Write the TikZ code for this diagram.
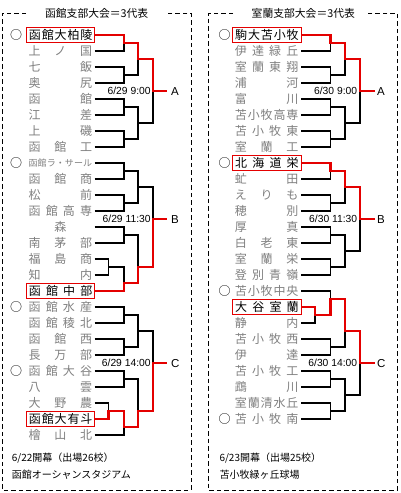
\documentclass[tikz,border=0pt]{standalone}
\usepackage{fontspec}
\newfontfamily\jp{Noto Sans CJK JP}
\newfontfamily\ar{Liberation Sans}
\definecolor{myred}{RGB}{228,0,0}
\definecolor{nm}{RGB}{128,128,128}
\newcommand\tm[1]{\makebox[63.5pt][s]{#1}}
\newcommand\hx{\hfill}
\begin{document}
\begin{tikzpicture}[x=1pt,y=-1pt,
 team/.style={anchor=west, inner xsep=2.4pt, inner ysep=0pt, minimum height=15pt, text height=10.5pt, text depth=1.5pt, font=\jp\fontsize{12}{12}\selectfont, text=nm},
 winbox/.style={team, draw=myred, line width=1pt, text=black},
 circ/.style={inner sep=0pt, font=\jp\fontsize{12}{12}\selectfont},
 ln/.style={line width=1.1pt, draw=black},
 rl/.style={line width=2.6pt, draw=myred},
 dt/.style={anchor=east, inner sep=0pt, font=\ar\fontsize{10.3}{10.3}\selectfont, text height=7.4pt, text depth=0pt},
 lbl/.style={anchor=west, inner sep=0pt, font=\ar\fontsize{11.5}{11.5}\selectfont, text height=8.2pt, text depth=0pt},
 ttl/.style={inner sep=0pt, font=\jp\fontsize{10.8}{10.8}\selectfont, text height=8.9pt, text depth=0.9pt},
 foot/.style={anchor=west, inner sep=0pt, font=\jp\fontsize{10}{10}\selectfont, text height=8.3pt, text depth=0.8pt},
 panel/.style={dash pattern=on 4.5pt off 3pt, line width=1pt},
]
\useasboundingbox (0,0) rectangle (400,493);
\fill[white] (0,0) rectangle (400,493);

% ---------- frames and titles ----------
\draw[panel] (26,13.3) -- (2,13.3) -- (2,490) -- (191,490) -- (191,13.3) -- (165,13.3);
\draw[panel] (233,13.3) -- (208.3,13.3) -- (208.3,490) -- (397.5,490) -- (397.5,13.3) -- (368,13.3);
\node[ttl] (tL) at (96.7,13.3) {函館支部大会＝3代表};
\node[ttl] (tR) at (303.3,13.3) {室蘭支部大会＝3代表};

% ---------- left teams ----------
\node[winbox] (L1) at (26,35) {\tm{函\hx 館\hx 大\hx 柏\hx 陵}};
\node[team] (L2) at (26,51) {\tm{上\hx ノ\hx 国}};
\node[team] (L3) at (26,67) {\tm{七\hx 飯}};
\node[team] (L4) at (26,83) {\tm{奥\hx 尻}};
\node[team] (L5) at (26,99) {\tm{函\hx 館}};
\node[team] (L6) at (26,115) {\tm{江\hx 差}};
\node[team] (L7) at (26,131) {\tm{上\hx 磯}};
\node[team] (L8) at (26,147) {\tm{函\hx 館\hx 工}};
\node[team, text height=9.4pt, text depth=2.6pt] (L9) at (26,163) {\fontsize{9}{9}\selectfont\tm{函\hx 館\hx ラ\hx ・\hx サ\hx ー\hx ル}};
\node[team] (L10) at (26,179) {\tm{函\hx 館\hx 商}};
\node[team] (L11) at (26,195) {\tm{松\hx 前}};
\node[team] (L12) at (26,211) {\tm{函\hx 館\hx 高\hx 専}};
\node[team] (L13) at (26,227) {\makebox[63.5pt][c]{森}};
\node[team] (L14) at (26,243) {\tm{南\hx 茅\hx 部}};
\node[team] (L15) at (26,259) {\tm{福\hx 島\hx 商}};
\node[team] (L16) at (26,275) {\tm{知\hx 内}};
\node[winbox] (L17) at (26,291) {\tm{函\hx 館\hx 中\hx 部}};
\node[team] (L18) at (26,307) {\tm{函\hx 館\hx 水\hx 産}};
\node[team] (L19) at (26,323) {\tm{函\hx 館\hx 稜\hx 北}};
\node[team] (L20) at (26,339) {\tm{函\hx 館\hx 西}};
\node[team] (L21) at (26,355) {\tm{長\hx 万\hx 部}};
\node[team] (L22) at (26,371) {\tm{函\hx 館\hx 大\hx 谷}};
\node[team] (L23) at (26,387) {\tm{八\hx 雲}};
\node[team] (L24) at (26,403) {\tm{大\hx 野\hx 農}};
\node[winbox] (L25) at (26,419) {\tm{函\hx 館\hx 大\hx 有\hx 斗}};
\node[team] (L26) at (26,435) {\tm{檜\hx 山\hx 北}};

\node[circ] (oL1) at (16,35) {○};
\node[circ] (oL9) at (16,163) {○};
\node[circ] (oL18) at (16,307) {○};
\node[circ] (oL22) at (16,371) {○};

% ---------- right teams ----------
\node[winbox] (R1) at (232.3,35) {\tm{駒\hx 大\hx 苫\hx 小\hx 牧}};
\node[team] (R2) at (232.3,51) {\tm{伊\hx 達\hx 緑\hx 丘}};
\node[team] (R3) at (232.3,67) {\tm{室\hx 蘭\hx 東\hx 翔}};
\node[team] (R4) at (232.3,83) {\tm{浦\hx 河}};
\node[team] (R5) at (232.3,99) {\tm{富\hx 川}};
\node[team] (R6) at (232.3,115) {\tm{苫\hx 小\hx 牧\hx 高\hx 専}};
\node[team] (R7) at (232.3,131) {\tm{苫\hx 小\hx 牧\hx 東}};
\node[team] (R8) at (232.3,147) {\tm{室\hx 蘭\hx 工}};
\node[winbox] (R9) at (232.3,163) {\tm{北\hx 海\hx 道\hx 栄}};
\node[team] (R10) at (232.3,179) {\tm{虻\hx 田}};
\node[team] (R11) at (232.3,195) {\tm{え\hx り\hx も}};
\node[team] (R12) at (232.3,211) {\tm{穂\hx 別}};
\node[team] (R13) at (232.3,227) {\tm{厚\hx 真}};
\node[team] (R14) at (232.3,243) {\tm{白\hx 老\hx 東}};
\node[team] (R15) at (232.3,259) {\tm{室\hx 蘭\hx 栄}};
\node[team] (R16) at (232.3,275) {\tm{登\hx 別\hx 青\hx 嶺}};
\node[team] (R17) at (232.3,291) {\tm{苫\hx 小\hx 牧\hx 中\hx 央}};
\node[winbox] (R18) at (232.3,307) {\tm{大\hx 谷\hx 室\hx 蘭}};
\node[team] (R19) at (232.3,323) {\tm{静\hx 内}};
\node[team] (R20) at (232.3,339) {\tm{苫\hx 小\hx 牧\hx 西}};
\node[team] (R21) at (232.3,355) {\tm{伊\hx 達}};
\node[team] (R22) at (232.3,371) {\tm{苫\hx 小\hx 牧\hx 工}};
\node[team] (R23) at (232.3,387) {\tm{鵡\hx 川}};
\node[team] (R24) at (232.3,403) {\tm{室\hx 蘭\hx 清\hx 水\hx 丘}};
\node[team] (R25) at (232.3,419) {\tm{苫\hx 小\hx 牧\hx 南}};

\node[circ] (oR1) at (224.5,35) {○};
\node[circ] (oR9) at (224.5,163) {○};
\node[circ] (oR17) at (224.5,291) {○};
\node[circ] (oR25) at (224.5,419) {○};

% ---------- left junctions ----------
\coordinate (a11) at (124,43);  \coordinate (a12) at (124,75);
\coordinate (a13) at (124,107); \coordinate (a14) at (124,139);
\coordinate (a21) at (138,59);  \coordinate (a22) at (138,123);
\coordinate (a3) at (153,91);   \coordinate (aE) at (167,91);

\coordinate (b11) at (124,171); \coordinate (b12) at (124,203);
\coordinate (b21) at (138,187); \coordinate (b13) at (124,235);
\coordinate (b01) at (108.3,267); \coordinate (b14) at (124,283);
\coordinate (b22) at (138,267); \coordinate (b3) at (153,219);
\coordinate (bE) at (167,219);

\coordinate (c11) at (124,315); \coordinate (c12) at (124,347);
\coordinate (c21) at (138,331); \coordinate (c13) at (124,379);
\coordinate (c01) at (108.3,411); \coordinate (c14) at (124,427);
\coordinate (c22) at (138,411); \coordinate (c3) at (153,363);
\coordinate (cE) at (167,363);

% ---------- right junctions ----------
\coordinate (d11) at (330.5,43);  \coordinate (d12) at (330.5,75);
\coordinate (d13) at (330.5,107); \coordinate (d14) at (330.5,139);
\coordinate (d21) at (345,59);    \coordinate (d22) at (345,123);
\coordinate (d3) at (360,91);     \coordinate (dE) at (375,91);

\coordinate (e11) at (330.5,171); \coordinate (e12) at (330.5,203);
\coordinate (e13) at (330.5,235); \coordinate (e14) at (330.5,267);
\coordinate (e21) at (345,187);   \coordinate (e22) at (345,251);
\coordinate (e3) at (360,219);    \coordinate (eE) at (375,219);

\coordinate (f01) at (315,315);   \coordinate (f11) at (330.5,299);
\coordinate (f12) at (330.5,347); \coordinate (f21) at (345,331);
\coordinate (f13) at (330.5,379); \coordinate (f14) at (330.5,411);
\coordinate (f22) at (345,395);   \coordinate (f3) at (360,363);
\coordinate (fE) at (375,363);

% ---------- left black lines ----------
\draw[ln] (L1.east) -| (a11); \draw[ln] (L2.east) -| (a11);
\draw[ln] (L3.east) -| (a12); \draw[ln] (L4.east) -| (a12);
\draw[ln] (L5.east) -| (a13); \draw[ln] (L6.east) -| (a13);
\draw[ln] (L7.east) -| (a14); \draw[ln] (L8.east) -| (a14);
\draw[ln] (a11) -| (a21); \draw[ln] (a12) -| (a21);
\draw[ln] (a13) -| (a22); \draw[ln] (a14) -| (a22);
\draw[ln] (a21) -| (a3);  \draw[ln] (a22) -| (a3);
\draw[ln] (a3) -- (aE);

\draw[ln] (L9.east) -| (b11);  \draw[ln] (L10.east) -| (b11);
\draw[ln] (L11.east) -| (b12); \draw[ln] (L12.east) -| (b12);
\draw[ln] (b11) -| (b21); \draw[ln] (b12) -| (b21);
\draw[ln] (L13.east) -| (b13); \draw[ln] (L14.east) -| (b13);
\draw[ln] (L15.east) -| (b01); \draw[ln] (L16.east) -| (b01);
\draw[ln] (b01) -| (b14); \draw[ln] (L17.east) -| (b14);
\draw[ln] (b13) -| (b22); \draw[ln] (b14) -| (b22);
\draw[ln] (b21) -| (b3);  \draw[ln] (b22) -| (b3);
\draw[ln] (b3) -- (bE);

\draw[ln] (L18.east) -| (c11); \draw[ln] (L19.east) -| (c11);
\draw[ln] (L20.east) -| (c12); \draw[ln] (L21.east) -| (c12);
\draw[ln] (c11) -| (c21); \draw[ln] (c12) -| (c21);
\draw[ln] (L22.east) -| (c13); \draw[ln] (L23.east) -| (c13);
\draw[ln] (L24.east) -| (c01); \draw[ln] (L25.east) -| (c01);
\draw[ln] (c01) -| (c14); \draw[ln] (L26.east) -| (c14);
\draw[ln] (c13) -| (c22); \draw[ln] (c14) -| (c22);
\draw[ln] (c21) -| (c3);  \draw[ln] (c22) -| (c3);
\draw[ln] (c3) -- (cE);

% ---------- right black lines ----------
\draw[ln] (R1.east) -| (d11); \draw[ln] (R2.east) -| (d11);
\draw[ln] (R3.east) -| (d12); \draw[ln] (R4.east) -| (d12);
\draw[ln] (R5.east) -| (d13); \draw[ln] (R6.east) -| (d13);
\draw[ln] (R7.east) -| (d14); \draw[ln] (R8.east) -| (d14);
\draw[ln] (d11) -| (d21); \draw[ln] (d12) -| (d21);
\draw[ln] (d13) -| (d22); \draw[ln] (d14) -| (d22);
\draw[ln] (d21) -| (d3);  \draw[ln] (d22) -| (d3);
\draw[ln] (d3) -- (dE);

\draw[ln] (R9.east) -| (e11);  \draw[ln] (R10.east) -| (e11);
\draw[ln] (R11.east) -| (e12); \draw[ln] (R12.east) -| (e12);
\draw[ln] (R13.east) -| (e13); \draw[ln] (R14.east) -| (e13);
\draw[ln] (R15.east) -| (e14); \draw[ln] (R16.east) -| (e14);
\draw[ln] (e11) -| (e21); \draw[ln] (e12) -| (e21);
\draw[ln] (e13) -| (e22); \draw[ln] (e14) -| (e22);
\draw[ln] (e21) -| (e3);  \draw[ln] (e22) -| (e3);
\draw[ln] (e3) -- (eE);

\draw[ln] (R18.east) -| (f01); \draw[ln] (R19.east) -| (f01);
\draw[ln] (R17.east) -| (f11); \draw[ln] (f01) -| (f11);
\draw[ln] (R20.east) -| (f12); \draw[ln] (R21.east) -| (f12);
\draw[ln] (f11) -| (f21); \draw[ln] (f12) -| (f21);
\draw[ln] (R22.east) -| (f13); \draw[ln] (R23.east) -| (f13);
\draw[ln] (R24.east) -| (f14); \draw[ln] (R25.east) -| (f14);
\draw[ln] (f13) -| (f22); \draw[ln] (f14) -| (f22);
\draw[ln] (f21) -| (f3);  \draw[ln] (f22) -| (f3);
\draw[ln] (f3) -- (fE);

% ---------- winners' paths ----------
\draw[rl] (L1.east) -| (a11) -| (a21) -| (a3) -- (aE);
\draw[rl] (L17.east) -| (b14) -| (b22) -| (b3) -- (bE);
\draw[rl] (L25.east) -| (c01) -| (c14) -| (c22) -| (c3) -- (cE);
\draw[rl] (R1.east) -| (d11) -| (d21) -| (d3) -- (dE);
\draw[rl] (R9.east) -| (e11) -| (e21) -| (e3) -- (eE);
\draw[rl] (R18.east) -| (f01) -| (f11) -| (f21) -| (f3) -- (fE);

% ---------- dates and labels ----------
\node[dt] (tA) at (150.8,91) {6/29 9:00};
\node[dt] (tB) at (150.8,219) {6/29 11:30};
\node[dt] (tC) at (150.8,363) {6/29 14:00};
\node[dt] (uA) at (357.3,91) {6/30 9:00};
\node[dt] (uB) at (357.3,219) {6/30 11:30};
\node[dt] (uC) at (357.3,363) {6/30 14:00};

\node[lbl] (lA) at (170.8,91) {A};
\node[lbl] (lB) at (170.8,219) {B};
\node[lbl] (lC) at (170.8,363) {C};
\node[lbl] (rA) at (377,91) {A};
\node[lbl] (rB) at (377,219) {B};
\node[lbl] (rC) at (377,363) {C};

% ---------- footers ----------
\node[foot] (fL1) at (11.7,458) {6/22開幕（出場26校）};
\node[foot] (fL2) at (11.7,475) {函館オーシャンスタジアム};
\node[foot] (fR1) at (219.3,458) {6/23開幕（出場25校）};
\node[foot] (fR2) at (219.3,474.5) {苫小牧緑ヶ丘球場};
\end{tikzpicture}
\end{document}
